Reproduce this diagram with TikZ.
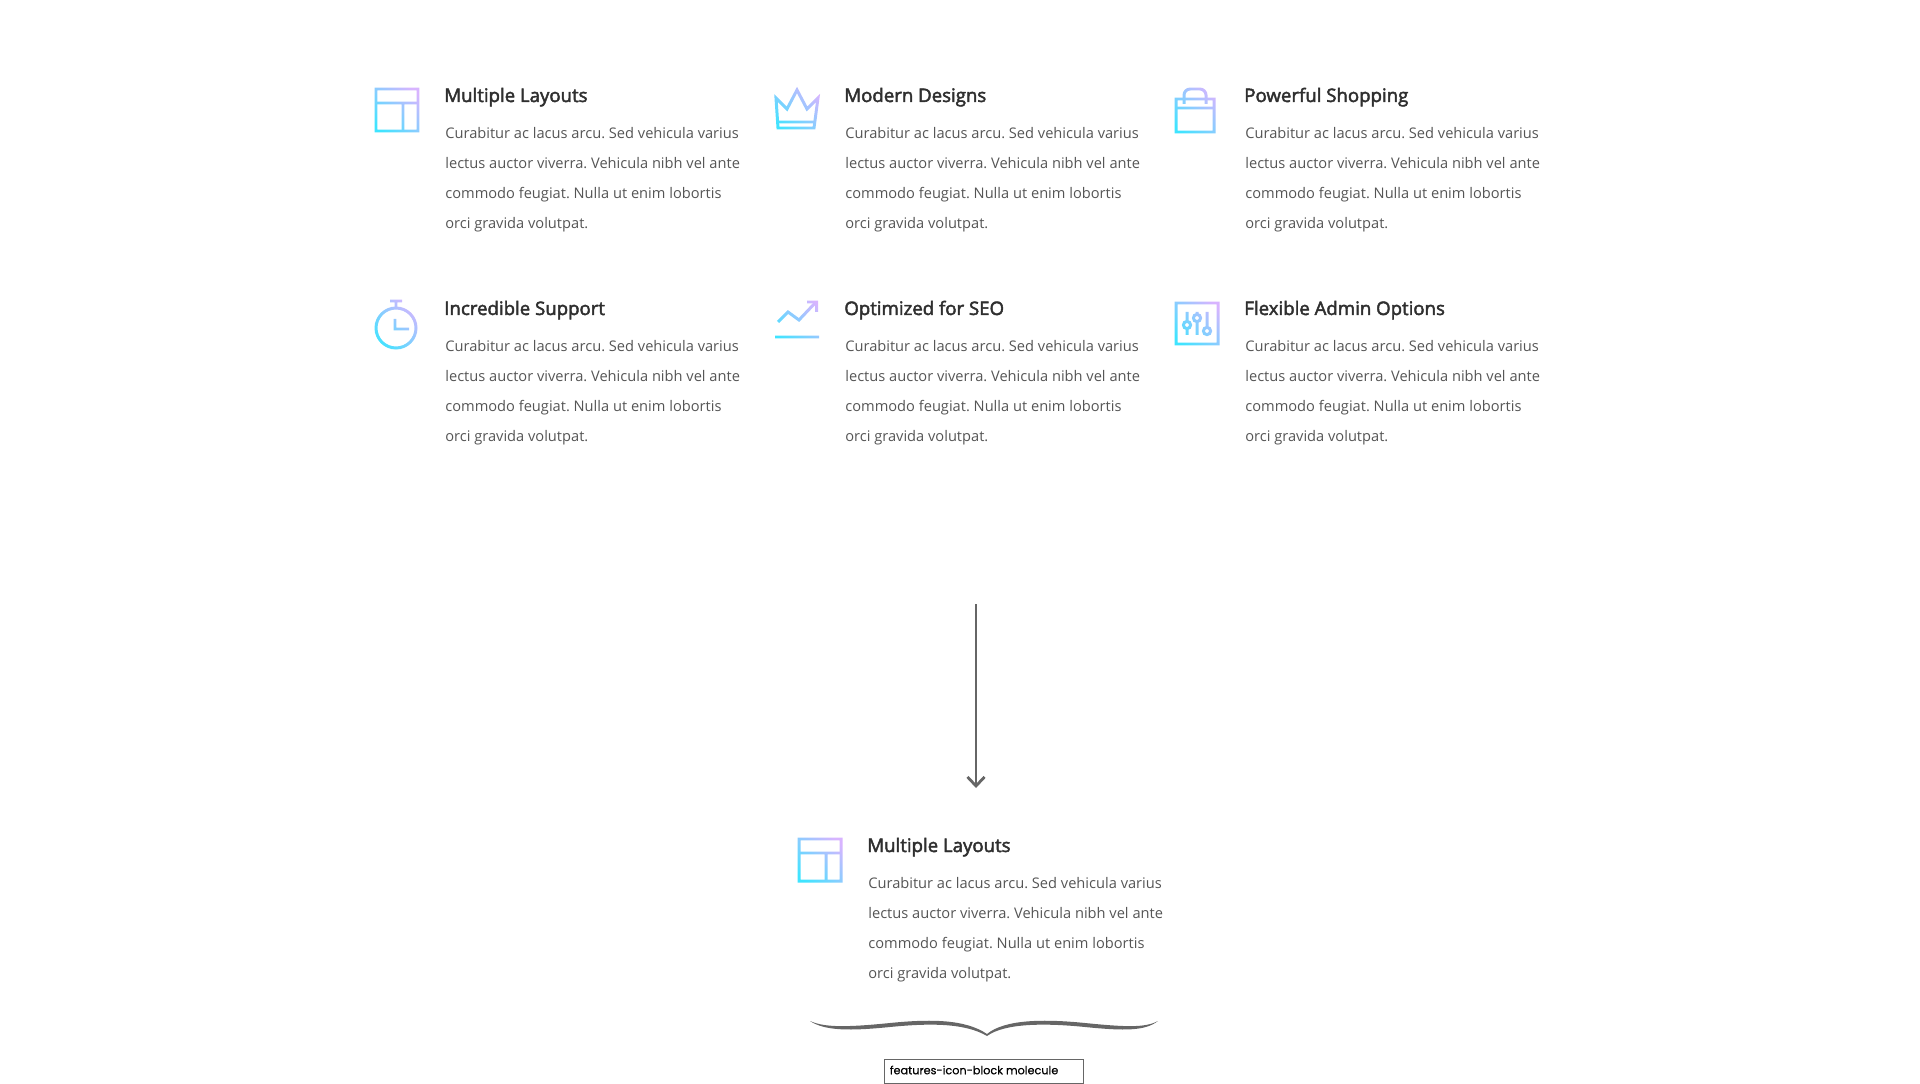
\documentclass[tikz,border=0pt]{standalone}
\usepackage{fontspec}
\setmainfont{Open Sans}
\newfontfamily\titlefont[FakeBold=2.5]{Open Sans}
\newfontfamily\tagfont[FakeBold=0.3]{Poppins}
\usetikzlibrary{arrows.meta,calc,positioning,fadings}
\definecolor{iconlow}{HTML}{3FE4FF}
\definecolor{iconhigh}{HTML}{D8B4FF}
\definecolor{titlegray}{HTML}{2F2F2F}
\definecolor{bodygray}{HTML}{555555}
\definecolor{markgray}{HTML}{666666}
\tikzset {
  >={Straight Barb[length=1.8mm,width=3.4mm]},
  px/.style={x=.02cm,y=-.02cm},
  iconline/.style={transparent!0,line width=1.7pt,line join=miter},
  titletext/.style={anchor=base west,inner sep=0pt,text=titlegray,font=\titlefont\fontsize{10.6}{12}\selectfont},
  bodytext/.style={anchor=north west,inner sep=0pt,align=left,text=bodygray,font=\frenchspacing\fontsize{8.33}{17.07}\selectfont},
}
\begin{tikzfadingfrompicture}[name=iconlayout,px]
  \path (-30,-30) rectangle (30,30);
  \draw[iconline] (-21,-21) rectangle (21,21);
  \draw[iconline] (-21,-7) -- (21,-7) (6,-7) -- (6,21);
\end{tikzfadingfrompicture}
\begin{tikzfadingfrompicture}[name=iconcrown,px]
  \path (-30,-30) rectangle (30,30);
  \draw[iconline] (-19,19) -- (-21,-11) -- (-10,0) -- (0,-19) -- (10,0) -- (21,-11) -- (17,19) -- cycle;
  \draw[iconline] (-18,13) -- (17,13);
\end{tikzfadingfrompicture}
\begin{tikzfadingfrompicture}[name=iconbag,px]
  \path (-30,-30) rectangle (30,30);
  \draw[iconline] (-19,-11) rectangle (19,22);
  \draw[iconline] (-19,-2) -- (19,-2);
  \draw[iconline,rounded corners=3.5pt] (-11,-6) -- (-11,-21) -- (11,-21) -- (11,-6);
\end{tikzfadingfrompicture}
\begin{tikzfadingfrompicture}[name=iconclock,px]
  \path (-30,-30) rectangle (30,30);
  \draw[iconline] (0,3) circle[radius=20];
  \draw[iconline] (0,-17) -- (0,-23) (-6,-24) -- (6,-24);
  \draw[iconline] (-1,-6) -- (-1,4) -- (13,4);
\end{tikzfadingfrompicture}
\begin{tikzfadingfrompicture}[name=iconchart,px]
  \path (-30,-30) rectangle (30,30);
  \draw[iconline] (-22,17) -- (22,17);
  \draw[iconline] (-19,2) -- (-9,-8) -- (2,0) -- (19,-18);
  \draw[iconline] (10,-18) -- (19.5,-18) -- (19.5,-8);
\end{tikzfadingfrompicture}
\begin{tikzfadingfrompicture}[name=iconsliders,px]
  \path (-30,-30) rectangle (30,30);
  \draw[iconline] (-21,-20) rectangle (21,21);
  \draw[iconline] (-10,-11) -- (-10,-2) (-10,6) -- (-10,12);
  \draw[iconline] (0,-11) -- (0,-9) (0,-1) -- (0,12);
  \draw[iconline] (10,-11) -- (10,4) (10,12) -- (10,12.5);
  \draw[iconline] (-10,2) circle[radius=3.6] (0,-5) circle[radius=3.6] (10,8) circle[radius=3.6];
\end{tikzfadingfrompicture}
\newcommand{\fillericon}[3]{
  \begin{scope}[shift={(#2,#3)}]
    \shade[bottom color=iconlow,top color=iconhigh,shading angle=-45,
      path fading=#1,fit fading=false,fading transform={shift={(#2,#3)}}] (-26,-26) rectangle (26,26);
  \end{scope}
}
\newcommand{\bodylines}{Curabitur ac lacus arcu. Sed vehicula varius\\lectus auctor viverra. Vehicula nibh vel ante\\commodo feugiat. Nulla ut enim lobortis\\orci gravida volutpat.}
\begin{document}
\begin{tikzpicture}[px]
  \useasboundingbox (0,0) rectangle (1920,1084);
  % feature blocks
  \foreach \name/\icon/\cx/\cy/\tx/\ty/\heading in {
    layouts/iconlayout/397/110/444/102/Multiple Layouts,
    designs/iconcrown/797/109/844/102/Modern Designs,
    shopping/iconbag/1195/110/1244/102/Powerful Shopping,
    support/iconclock/396/325/444/315/Incredible Support,
    seo/iconchart/797/320/844/315/Optimized for SEO,
    admin/iconsliders/1197/323/1244/315/Flexible Admin Options,
    single/iconlayout/820/860/867/852/Multiple Layouts}{
    \fillericon{\icon}{\cx}{\cy}
    \node[titletext] (\name title) at (\tx,\ty) {\heading};
    \node[bodytext] (\name body) at ($(\tx,\ty)+(1,25)$) {\bodylines};
  }
  % arrow and brace
  \coordinate (arrowstart) at (976,604);
  \coordinate (arrowend) at (976,788);
  \draw[->,markgray,line width=1.6pt] (arrowstart) -- (arrowend);
  \fill[markgray] (810,1021) .. controls (825,1028) and (850,1027) .. (890,1023)
    .. controls (930,1019) and (965,1019) .. (987,1034)
    .. controls (1005,1019) and (1045,1019) .. (1085,1023)
    .. controls (1125,1027) and (1145,1028) .. (1158,1021)
    .. controls (1145,1031) and (1125,1031) .. (1085,1027)
    .. controls (1045,1023) and (1005,1023) .. (987,1036)
    .. controls (965,1023) and (930,1023) .. (890,1027)
    .. controls (850,1031) and (825,1031) .. (810,1021) -- cycle;
  \node[draw=markgray,line width=.55pt,minimum width=199*.02cm,minimum height=24*.02cm,inner sep=0pt] (molecule) at (983.5,1071) {};
  \node[anchor=west,inner sep=0pt,font=\tagfont\fontsize{6.4}{9}\selectfont] (moleculetext) at ($(molecule.west)+(6,-1)$) {features-icon-block molecule};
\end{tikzpicture}
\end{document}
